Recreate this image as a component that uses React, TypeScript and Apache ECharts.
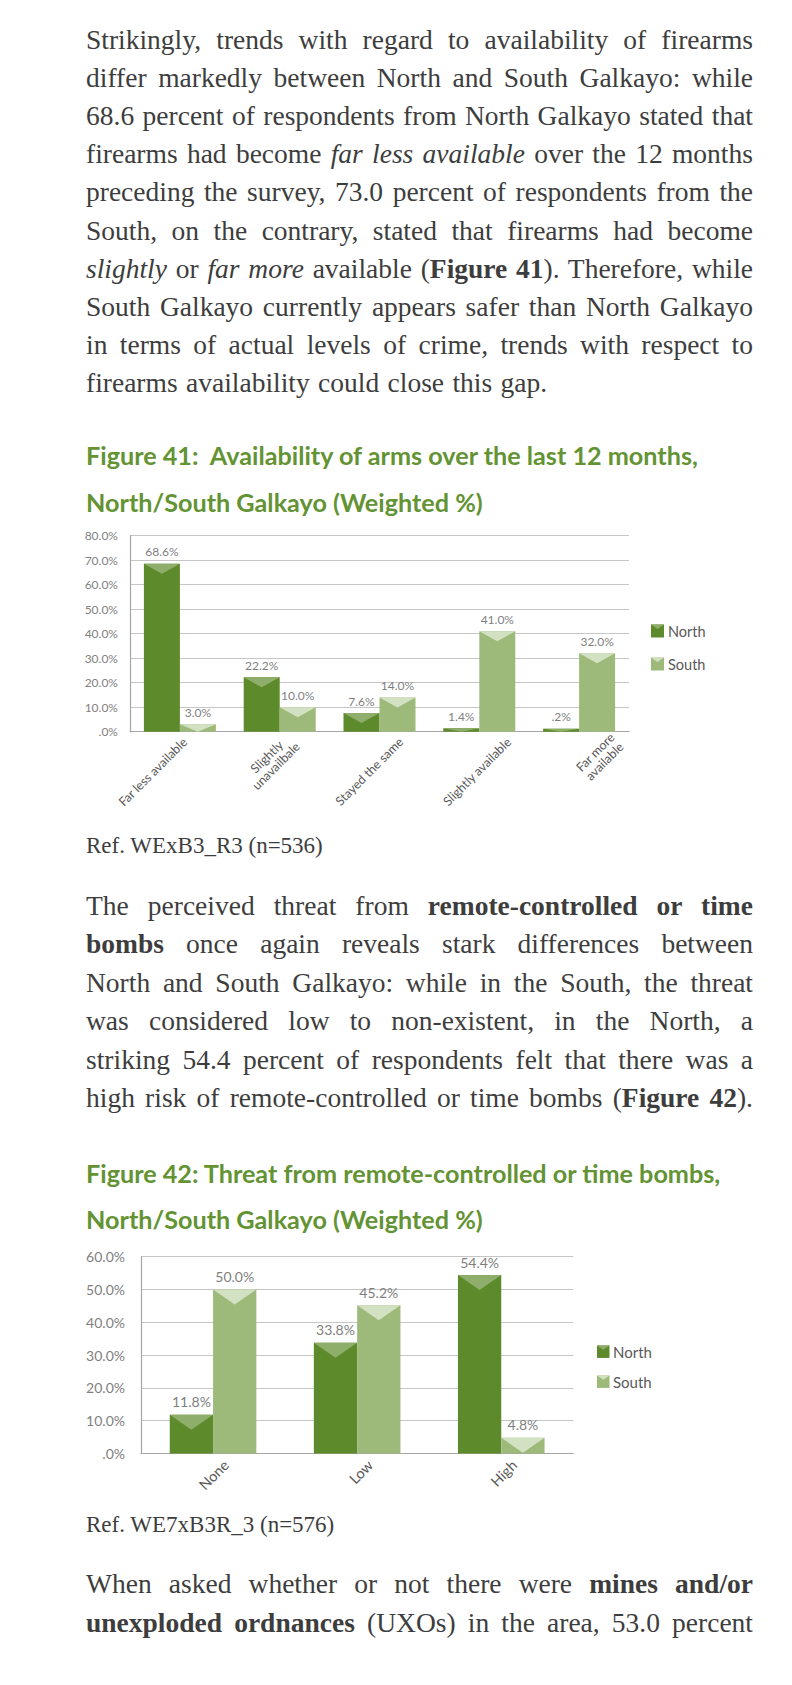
import React, { useEffect, useRef } from "react";
import * as echarts from "echarts";

// ---------- Data ----------
const fig41Categories = [
  "Far less available",
  "Slightly\nunavailbale",
  "Stayed the same",
  "Slightly available",
  "Far more\navailable",
];
const fig41North = [68.6, 22.2, 7.6, 1.4, 0.2];
const fig41South = [3.0, 10.0, 14.0, 41.0, 32.0];
const fig41AxisMax = 80;

const fig42Categories = ["None", "Low", "High"];
const fig42North = [11.8, 33.8, 54.4];
const fig42South = [50.0, 45.2, 4.8];
const fig42AxisMax = 60;

const seriesNames = ["North", "South"];

// ---------- Text ----------
const para1 = [
  "Strikingly, trends with regard to availability of firearms",
  "differ markedly between North and South Galkayo: while",
  "68.6 percent of respondents from North Galkayo stated that",
  "firearms had become <i>far less available</i> over the 12 months",
  "preceding the survey, 73.0 percent of respondents from the",
  "South, on the contrary, stated that firearms had become",
  "<i>slightly</i> or <i>far more</i> available (<b>Figure 41</b>). Therefore, while",
  "South Galkayo currently appears safer than North Galkayo",
  "in terms of actual levels of crime, trends with respect to",
  "firearms availability could close this gap.",
];
const para2 = [
  "The perceived threat from <b>remote-controlled or time</b>",
  "<b>bombs</b> once again reveals stark differences between",
  "North and South Galkayo: while in the South, the threat",
  "was considered low to non-existent, in the North, a",
  "striking 54.4 percent of respondents felt that there was a",
  "high risk of remote-controlled or time bombs (<b>Figure 42</b>).",
];
const para3 = [
  "When asked whether or not there were <b>mines and/or</b>",
  "<b>unexploded ordnances</b> (UXOs) in the area, 53.0 percent",
];
const fig41Title = [
  "Figure 41:&nbsp; Availability of arms over the last 12 months,",
  "North/South Galkayo (Weighted %)",
];
const fig42Title = [
  "Figure 42: Threat from remote-controlled or time bombs,",
  "North/South Galkayo (Weighted %)",
];
const ref41 = "Ref. WExB3_R3 (n=536)";
const ref42 = "Ref. WE7xB3R_3 (n=576)";

// ---------- Styles ----------
const NORTH = "#5d8a2a";
const NORTH_TRI = "#8fae6b";
const SOUTH = "#9eba7b";
const SOUTH_TRI = "#d3e1c3";
const CHART_FONT = "Lato";

const pct = (v: number) => {
  let s = Number(v).toFixed(1);
  if (s.startsWith("0.")) s = s.slice(1);
  return s + "%";
};

function triSeries(
  axisIndex: number,
  data: number[],
  sign: number,
  barW: number,
  depth: number,
  color: string,
  minH: number
) {
  return {
    type: "custom",
    xAxisIndex: axisIndex,
    yAxisIndex: axisIndex,
    silent: true,
    z: 5,
    data: data.map((v, i) => [i, v]),
    renderItem: (_p: any, api: any) => {
      const cat = api.value(0);
      const val = api.value(1);
      const top = api.coord([cat, val]);
      const base = api.coord([cat, 0]);
      const x = top[0] + (sign * barW) / 2;
      let h = base[1] - top[1];
      if (h < minH) h = minH;
      const ty = base[1] - h;
      const d = Math.min(depth, h);
      return {
        type: "polygon",
        shape: {
          points: [
            [x - barW / 2, ty],
            [x + barW / 2, ty],
            [x, ty + d],
          ],
        },
        style: { fill: color },
      };
    },
  };
}

function barSeries(
  axisIndex: number,
  name: string,
  data: number[],
  color: string,
  barW: number,
  fontSize: number
) {
  return {
    type: "bar",
    name,
    xAxisIndex: axisIndex,
    yAxisIndex: axisIndex,
    data,
    barWidth: barW,
    barGap: "0%",
    barMinHeight: 3,
    itemStyle: { color },
    label: {
      show: true,
      position: "top",
      distance: 6,
      color: "#7f7f7f",
      fontSize,
      fontFamily: CHART_FONT,
      formatter: (p: any) => pct(p.value),
    },
  };
}

function legendGraphic(
  x: number,
  yCenters: number[],
  size: number,
  textX: number,
  fontSize: number
) {
  const els: any[] = [];
  const cols = [
    [NORTH, NORTH_TRI],
    [SOUTH, SOUTH_TRI],
  ];
  seriesNames.forEach((n, i) => {
    const y = yCenters[i] - size / 2;
    els.push({
      type: "rect",
      shape: { x, y, width: size, height: size },
      style: { fill: cols[i][0] },
    });
    els.push({
      type: "polygon",
      shape: {
        points: [
          [x, y],
          [x + size, y],
          [x + size / 2, y + size * 0.35],
        ],
      },
      style: { fill: cols[i][1] },
    });
    els.push({
      type: "text",
      x: textX,
      y: yCenters[i],
      style: {
        text: n,
        fill: "#595959",
        fontSize,
        fontFamily: CHART_FONT,
        verticalAlign: "middle",
        align: "left",
      },
    });
  });
  return els;
}

function labelAxis(grid: number, data: string[], fontSize: number, margin: number, lh: number) {
  return {
    type: "category",
    gridIndex: grid,
    data,
    axisLine: { show: false },
    axisTick: { show: false },
    splitLine: { show: false },
    axisLabel: {
      interval: 0,
      rotate: 45,
      margin,
      formatter: (v: string) =>
        v
          .split("\n")
          .map((s) => "{a|" + s + "}")
          .join("\n"),
      rich: {
        a: {
          align: "center",
          fontSize,
          lineHeight: lh,
          color: "#595959",
          fontFamily: CHART_FONT,
        },
      },
    },
  };
}

const gridLineStyle = { color: "#c6c6c6", width: 1.2 };
const axisLineStyle = { color: "#a6a6a6", width: 1.2 };

function buildOption() {
  return {
    animation: false,
    grid: [
      { left: 130, top: 535.7, width: 499, height: 196 },
      { left: 141, top: 1256.7, width: 432.3, height: 196.8 },
      { left: 131, top: 535.7, width: 540, height: 196 },
      { left: 154, top: 1256.7, width: 432.3, height: 196.8 },
    ],
    xAxis: [
      {
        type: "category",
        gridIndex: 0,
        data: fig41Categories,
        axisLine: { lineStyle: axisLineStyle },
        axisTick: { show: false },
        axisLabel: { show: false },
      },
      {
        type: "category",
        gridIndex: 1,
        data: fig42Categories,
        axisLine: { lineStyle: axisLineStyle },
        axisTick: { show: false },
        axisLabel: { show: false },
      },
      labelAxis(2, fig41Categories, 12.5, 8, 13),
      labelAxis(3, fig42Categories, 14.5, 9, 16),
    ],
    yAxis: [
      {
        type: "value",
        gridIndex: 0,
        min: 0,
        max: fig41AxisMax,
        interval: 10,
        axisLine: { show: true, lineStyle: axisLineStyle },
        axisTick: { show: false },
        splitLine: { lineStyle: gridLineStyle },
        axisLabel: {
          formatter: pct,
          fontSize: 12,
          color: "#7f7f7f",
          fontFamily: CHART_FONT,
          margin: 12,
        },
      },
      {
        type: "value",
        gridIndex: 1,
        min: 0,
        max: fig42AxisMax,
        interval: 10,
        axisLine: { show: true, lineStyle: axisLineStyle },
        axisTick: { show: false },
        splitLine: { lineStyle: gridLineStyle },
        axisLabel: {
          formatter: pct,
          fontSize: 14,
          color: "#7f7f7f",
          fontFamily: CHART_FONT,
          margin: 16,
        },
      },
      { type: "value", gridIndex: 2, show: false, min: 0, max: fig41AxisMax },
      { type: "value", gridIndex: 3, show: false, min: 0, max: fig42AxisMax },
    ],
    series: [
      barSeries(0, "North", fig41North, NORTH, 36, 12),
      barSeries(0, "South", fig41South, SOUTH, 36, 12),
      triSeries(0, fig41North, -1, 36, 10, NORTH_TRI, 3),
      triSeries(0, fig41South, 1, 36, 10, SOUTH_TRI, 3),
      barSeries(1, "North", fig42North, NORTH, 43.3, 14),
      barSeries(1, "South", fig42South, SOUTH, 43.3, 14),
      triSeries(1, fig42North, -1, 43.3, 15, NORTH_TRI, 3),
      triSeries(1, fig42South, 1, 43.3, 15, SOUTH_TRI, 3),
    ],
    graphic: [
      ...legendGraphic(651, [631, 664], 13, 668, 14.5),
      ...legendGraphic(597, [1351.7, 1381.7], 12.5, 613, 15),
    ],
  };
}

const SERIF = '"Liberation Serif", "Times New Roman", serif';
const BODY_COLOR = "#3d3d3d";
const TITLE_COLOR = "#639333";

function Para({
  lines,
  top,
  step,
  justifyLast,
}: {
  lines: string[];
  top: number;
  step: number;
  justifyLast: boolean;
}) {
  return (
    <>
      {lines.map((l, i) => {
        const last = i === lines.length - 1 && !justifyLast;
        return (
          <div
            key={i}
            style={{
              position: "absolute",
              left: 86,
              top: top + i * step,
              width: 667,
              height: 38,
              lineHeight: "38px",
              fontFamily: SERIF,
              fontSize: 27.5,
              color: BODY_COLOR,
              textAlign: last ? "left" : "justify",
              textAlignLast: last ? "left" : "justify",
              whiteSpace: "normal",
              wordSpacing: last ? "1.5px" : undefined,
            } as any}
            dangerouslySetInnerHTML={{ __html: l }}
          />
        );
      })}
    </>
  );
}

function Title({ lines, top, step }: { lines: string[]; top: number; step: number }) {
  return (
    <>
      {lines.map((l, i) => (
        <div
          key={i}
          style={{
            position: "absolute",
            left: 86,
            top: top + i * step,
            height: 40,
            lineHeight: "40px",
            fontFamily: '"Lato", "Open Sans", sans-serif',
            fontWeight: 700,
            fontSize: 25.2,
            color: TITLE_COLOR,
            whiteSpace: "nowrap",
          }}
          dangerouslySetInnerHTML={{ __html: l }}
        />
      ))}
    </>
  );
}

function Ref({ text, top }: { text: string; top: number }) {
  return (
    <div
      style={{
        position: "absolute",
        left: 86,
        top,
        height: 30,
        lineHeight: "30px",
        fontFamily: SERIF,
        fontSize: 23,
        color: BODY_COLOR,
        whiteSpace: "nowrap",
      }}
    >
      {text}
    </div>
  );
}

export default function App() {
  const ref = useRef<HTMLDivElement>(null);
  useEffect(() => {
    if (!ref.current) return;
    const chart = echarts.init(ref.current, undefined, { renderer: "svg" });
    chart.setOption(buildOption() as any);
    return () => chart.dispose();
  }, []);
  return (
    <div
      style={{
        position: "absolute",
        left: 0,
        top: 0,
        width: 792,
        height: 1685,
        background: "#ffffff",
        overflow: "hidden",
      }}
    >
      <div
        ref={ref}
        style={{ position: "absolute", left: 0, top: 0, width: 792, height: 1685 }}
      />
      <Para lines={para1} top={21} step={38.1} justifyLast={false} />
      <Title lines={fig41Title} top={435} step={47} />
      <Ref text={ref41} top={830.7} />
      <Para lines={para2} top={887} step={38.4} justifyLast={true} />
      <Title lines={fig42Title} top={1153} step={46} />
      <Ref text={ref42} top={1509.7} />
      <Para lines={para3} top={1565} step={38.6} justifyLast={true} />
    </div>
  );
}
